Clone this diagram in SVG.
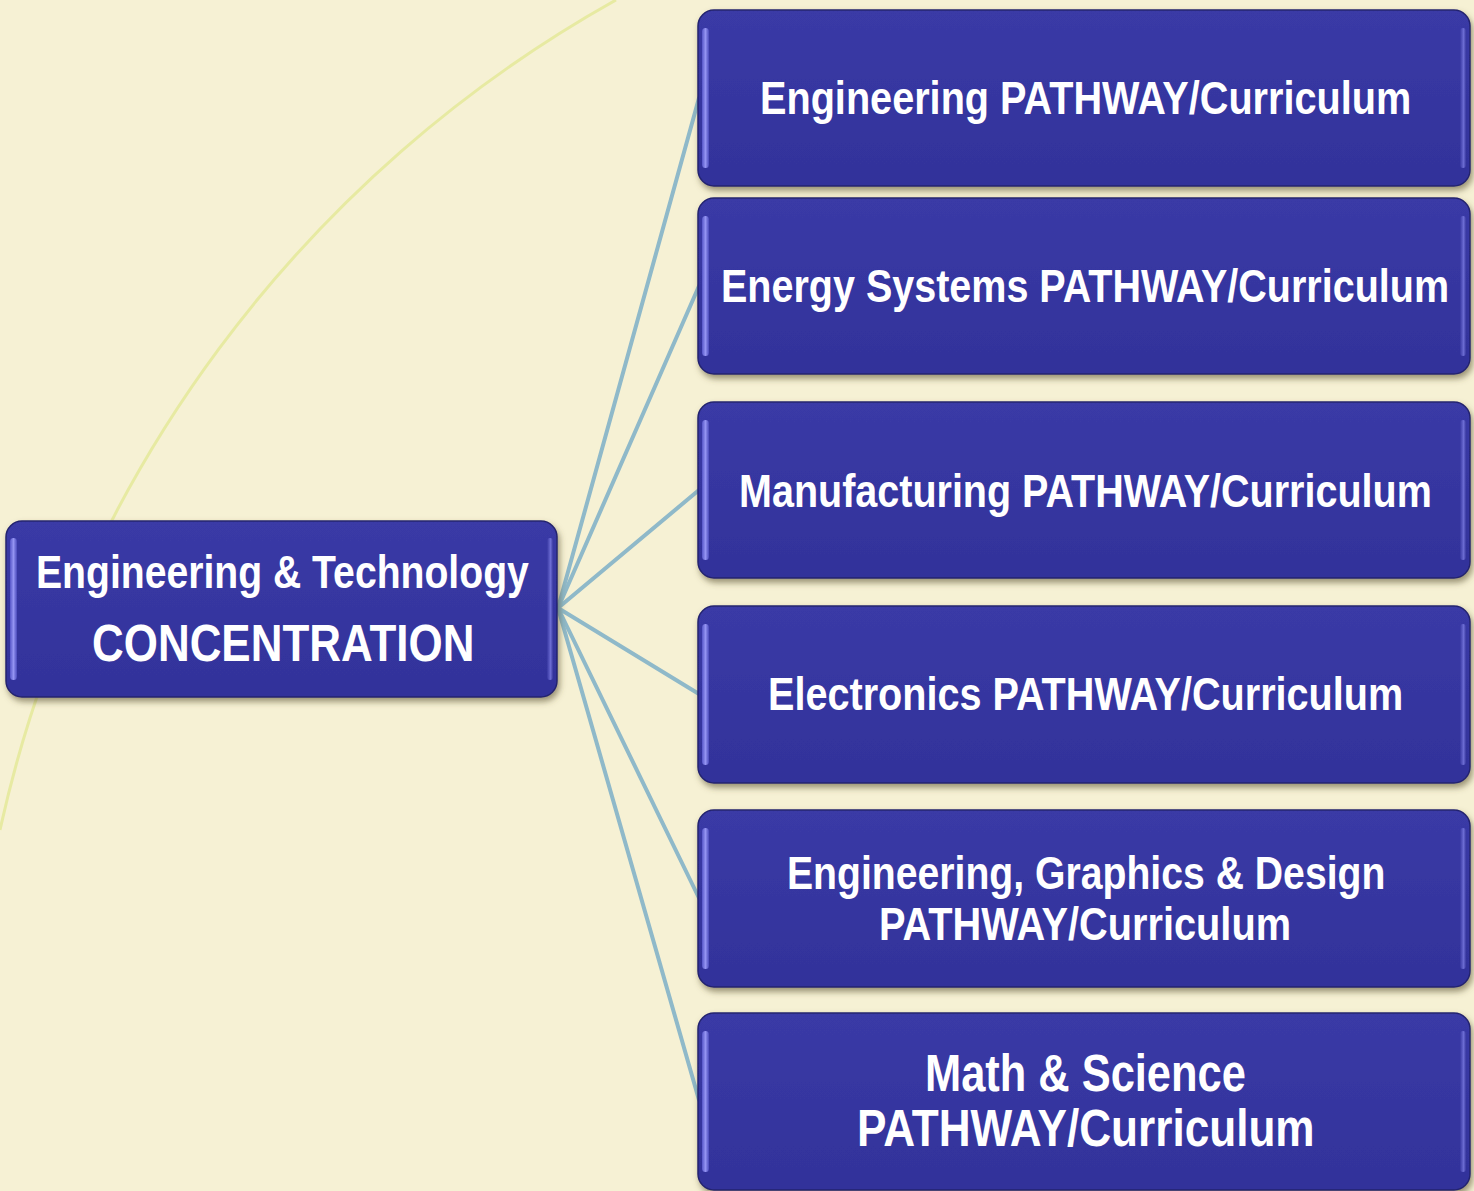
<svg xmlns="http://www.w3.org/2000/svg" width="1474" height="1191" viewBox="0 0 1474 1191">
  <defs>
    <filter id="shadow" x="-5%" y="-10%" width="110%" height="125%">
      <feDropShadow dx="2" dy="4" stdDeviation="3" flood-color="#5a5330" flood-opacity="0.6"/>
    </filter>
    <linearGradient id="boxFill" x1="0" y1="0" x2="0" y2="1">
      <stop offset="0" stop-color="#3a3aa6"/>
      <stop offset="0.5" stop-color="#3636a0"/>
      <stop offset="1" stop-color="#32329a"/>
    </linearGradient>
    <linearGradient id="leftGlint" x1="0" y1="0" x2="1" y2="0">
      <stop offset="0" stop-color="#5656c8"/>
      <stop offset="0.5" stop-color="#9494f2"/>
      <stop offset="1" stop-color="#4a4abb"/>
    </linearGradient>
    <linearGradient id="rightGlint" x1="0" y1="0" x2="1" y2="0">
      <stop offset="0" stop-color="#3838a2"/>
      <stop offset="0.6" stop-color="#7a7ae0"/>
      <stop offset="1" stop-color="#3a3aa0"/>
    </linearGradient>
    <style>
      .bg { fill: #f6f1d4; }
      .arc { fill: none; stroke: #e7eaa2; stroke-width: 3; }
      .link { fill: none; stroke: #8fb9c9; stroke-width: 4; stroke-linecap: round; }
      .box { fill: url(#boxFill); stroke: #24246f; stroke-width: 1.5; filter: url(#shadow); }
      .gl { fill: url(#leftGlint); }
      .gr { fill: url(#rightGlint); opacity: 0.8; }
      .lbl { fill: #ffffff; font-family: "Liberation Sans", Arial, sans-serif; font-weight: bold; font-size: 47px; }
      .big { font-size: 51px; }
    </style>
  </defs>

  <rect class="bg" x="0" y="0" width="1474" height="1191"/>

  <!-- large pale background arc -->
  <path class="arc" d="M 616 0 A 1259 1259 0 0 0 0 830"/>

  <!-- connectors from the concentration box to each pathway -->
  <g id="connectors">
    <line class="link" x1="558" y1="608" x2="699" y2="98"/>
    <line class="link" x1="558" y1="608" x2="699" y2="286"/>
    <line class="link" x1="558" y1="608" x2="699" y2="490"/>
    <line class="link" x1="558" y1="608" x2="699" y2="694"/>
    <line class="link" x1="558" y1="608" x2="699" y2="898"/>
    <line class="link" x1="558" y1="608" x2="699" y2="1100"/>
  </g>

  <!-- labels are drawn at origin, then narrowed horizontally to a condensed face -->
  <g id="concentration">
    <rect class="box" x="6" y="521" width="551" height="176" rx="16"/>
    <rect class="gl" x="10" y="538" width="7" height="142" rx="3.5"/>
    <rect class="gr" x="547" y="538" width="6" height="142" rx="3"/>
    <text class="lbl" transform="translate(36 588) scale(0.8 1)" textLength="616" lengthAdjust="spacingAndGlyphs">Engineering &amp; Technology</text>
    <text class="lbl big" transform="translate(92 661) scale(0.8 1)" textLength="478" lengthAdjust="spacingAndGlyphs">CONCENTRATION</text>
  </g>

  <g id="engineering">
    <rect class="box" x="698" y="10" width="772" height="176" rx="16"/>
    <rect class="gl" x="702" y="28" width="7" height="140" rx="3.5"/>
    <rect class="gr" x="1460" y="28" width="6" height="140" rx="3"/>
    <text class="lbl" transform="translate(760 114) scale(0.8 1)" textLength="814" lengthAdjust="spacingAndGlyphs">Engineering PATHWAY/Curriculum</text>
  </g>

  <g id="energy-systems">
    <rect class="box" x="698" y="198" width="772" height="176" rx="16"/>
    <rect class="gl" x="702" y="216" width="7" height="140" rx="3.5"/>
    <rect class="gr" x="1460" y="216" width="6" height="140" rx="3"/>
    <text class="lbl" transform="translate(721 302) scale(0.8 1)" textLength="910" lengthAdjust="spacingAndGlyphs">Energy Systems PATHWAY/Curriculum</text>
  </g>

  <g id="manufacturing">
    <rect class="box" x="698" y="402" width="772" height="176" rx="16"/>
    <rect class="gl" x="702" y="420" width="7" height="140" rx="3.5"/>
    <rect class="gr" x="1460" y="420" width="6" height="140" rx="3"/>
    <text class="lbl" transform="translate(739 507) scale(0.8 1)" textLength="866" lengthAdjust="spacingAndGlyphs">Manufacturing PATHWAY/Curriculum</text>
  </g>

  <g id="electronics">
    <rect class="box" x="698" y="606" width="772" height="177" rx="16"/>
    <rect class="gl" x="702" y="624" width="7" height="141" rx="3.5"/>
    <rect class="gr" x="1460" y="624" width="6" height="141" rx="3"/>
    <text class="lbl" transform="translate(768 710) scale(0.8 1)" textLength="794" lengthAdjust="spacingAndGlyphs">Electronics PATHWAY/Curriculum</text>
  </g>

  <g id="graphics-design">
    <rect class="box" x="698" y="810" width="772" height="177" rx="16"/>
    <rect class="gl" x="702" y="828" width="7" height="141" rx="3.5"/>
    <rect class="gr" x="1460" y="828" width="6" height="141" rx="3"/>
    <text class="lbl" transform="translate(787 889) scale(0.8 1)" textLength="748" lengthAdjust="spacingAndGlyphs">Engineering, Graphics &amp; Design</text>
    <text class="lbl" transform="translate(879 940) scale(0.8 1)" textLength="515" lengthAdjust="spacingAndGlyphs">PATHWAY/Curriculum</text>
  </g>

  <g id="math-science">
    <rect class="box" x="698" y="1013" width="772" height="177" rx="16"/>
    <rect class="gl" x="702" y="1031" width="7" height="141" rx="3.5"/>
    <rect class="gr" x="1460" y="1031" width="6" height="141" rx="3"/>
    <text class="lbl big" transform="translate(925 1091) scale(0.8 1)" textLength="401" lengthAdjust="spacingAndGlyphs">Math &amp; Science</text>
    <text class="lbl big" transform="translate(857 1146) scale(0.8 1)" textLength="572" lengthAdjust="spacingAndGlyphs">PATHWAY/Curriculum</text>
  </g>
</svg>
